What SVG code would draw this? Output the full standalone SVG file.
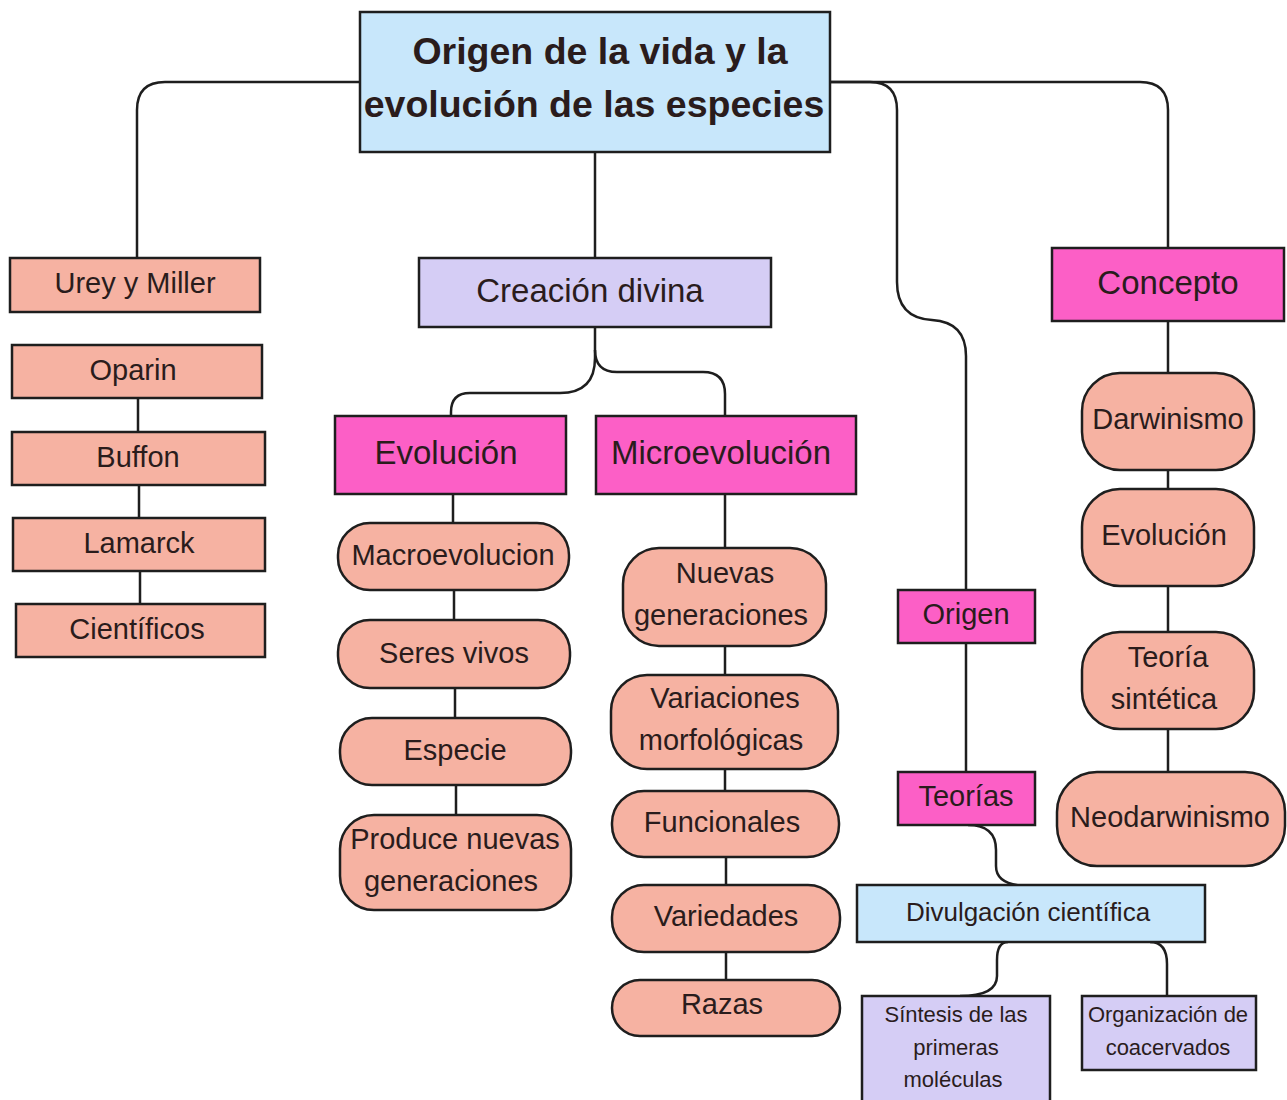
<svg xmlns="http://www.w3.org/2000/svg" width="1287" height="1100" viewBox="0 0 1287 1100">
<style>
rect{stroke:#1e1e1e;stroke-width:2.5}
.sal{fill:#f6b2a2}
.pink{fill:#fc5fc6}
.lav{fill:#d5cdf5}
.blue{fill:#c8e7fb}
text{font-family:"Liberation Sans",Arial,sans-serif;fill:#2a1c1c;text-anchor:middle;dominant-baseline:central}
.t29{font-size:29px}
.t33{font-size:33px}
.t26{font-size:26px}
.t22{font-size:22px}
#connectors path{fill:none;stroke:#1e1e1e;stroke-width:2.5}
</style>
<rect width="1287" height="1100" fill="#ffffff" style="stroke:none"/>
<g id="connectors">
<path d="M360,82 H165 Q137,82 137,110 V258"/>
<path d="M830,82 H1140 Q1168,82 1168,110 V248"/>
<path d="M830,82 H870 Q897,82 897,110 V282 Q897,318 932,320 Q966,322 966,356 V590"/>
<path d="M595,152 V258"/>
<path d="M595,327 V358 Q595,393 560,393 H470 Q451,393 451,412 V416"/>
<path d="M595,350 Q595,372 617,372 H703 Q725,372 725,394 V416"/>
<path d="M138,398 V432 M139,485 V518 M140,571 V604"/>
<path d="M453,494 V523 M454,590 V620 M455,688 V718 M456,785 V815"/>
<path d="M725,494 V548 M725,646 V675 M725,769 V791 M726,857 V885 M726,952 V980"/>
<path d="M1168,321 V373 M1168,470 V489 M1168,586 V632 M1168,729 V772"/>
<path d="M966,643 V772"/>
<path d="M968,825 Q996,825 996,850 V866 Q996,886 1030,886"/>
<path d="M1008,942 Q997,942 997,960 V976 Q997,996 960,996"/>
<path d="M1150,942 Q1167,942 1167,964 V996"/>
</g>
<g id="title"><rect class="blue" x="360" y="12" width="470" height="140"/>
<text x="600" y="51" style="font-size:37.5px;font-weight:bold">Origen de la vida y la</text>
<text x="594" y="104" style="font-size:37.5px;font-weight:bold">evolución de las especies</text></g>
<g id="urey"><rect class="sal" x="10" y="258" width="250" height="54"/><text class="t29" x="135" y="283">Urey y Miller</text></g>
<g id="oparin"><rect class="sal" x="12" y="345" width="250" height="53"/><text class="t29" x="133" y="370">Oparin</text></g>
<g id="buffon"><rect class="sal" x="12" y="432" width="253" height="53"/><text class="t29" x="138" y="457">Buffon</text></g>
<g id="lamarck"><rect class="sal" x="13" y="518" width="252" height="53"/><text class="t29" x="139" y="543">Lamarck</text></g>
<g id="cientificos"><rect class="sal" x="16" y="604" width="249" height="53"/><text class="t29" x="137" y="629">Científicos</text></g>
<g id="creacion"><rect class="lav" x="419" y="258" width="352" height="69"/><text class="t33" x="590" y="290">Creación divina</text></g>
<g id="evolucion"><rect class="pink" x="335" y="416" width="231" height="78"/><text class="t33" x="446" y="452">Evolución</text></g>
<g id="microevolucion"><rect class="pink" x="596" y="416" width="260" height="78"/><text class="t33" x="721" y="452">Microevolución</text></g>
<g id="macroevolucion"><rect class="sal" x="338" y="523" width="231" height="67" rx="32"/><text class="t29" x="453" y="555">Macroevolucion</text></g>
<g id="seres"><rect class="sal" x="338" y="620" width="232" height="68" rx="32"/><text class="t29" x="454" y="653">Seres vivos</text></g>
<g id="especie"><rect class="sal" x="340" y="718" width="231" height="67" rx="32"/><text class="t29" x="455" y="750">Especie</text></g>
<g id="produce"><rect class="sal" x="340" y="815" width="231" height="95" rx="34"/><text class="t29" x="455" y="839">Produce nuevas</text><text class="t29" x="451" y="881">generaciones</text></g>
<g id="nuevas"><rect class="sal" x="623" y="548" width="203" height="98" rx="36"/><text class="t29" x="725" y="573">Nuevas</text><text class="t29" x="721" y="615">generaciones</text></g>
<g id="variaciones"><rect class="sal" x="611" y="675" width="227" height="94" rx="36"/><text class="t29" x="725" y="698">Variaciones</text><text class="t29" x="721" y="740">morfológicas</text></g>
<g id="funcionales"><rect class="sal" x="612" y="791" width="227" height="66" rx="32"/><text class="t29" x="722" y="822">Funcionales</text></g>
<g id="variedades"><rect class="sal" x="612" y="885" width="228" height="67" rx="32"/><text class="t29" x="726" y="916">Variedades</text></g>
<g id="razas"><rect class="sal" x="612" y="980" width="228" height="56" rx="28"/><text class="t29" x="722" y="1004">Razas</text></g>
<g id="origen"><rect class="pink" x="898" y="590" width="137" height="53"/><text class="t29" x="966" y="614">Origen</text></g>
<g id="teorias"><rect class="pink" x="898" y="772" width="137" height="53"/><text class="t29" x="966" y="796">Teorías</text></g>
<g id="divulgacion"><rect class="blue" x="857" y="885" width="348" height="57"/><text class="t26" x="1028" y="912">Divulgación científica</text></g>
<g id="sintesis"><rect class="lav" x="862" y="996" width="188" height="110"/><text class="t22" x="956" y="1014">Síntesis de las</text><text class="t22" x="956" y="1047">primeras</text><text class="t22" x="953" y="1079">moléculas</text></g>
<g id="organizacion"><rect class="lav" x="1082" y="996" width="174" height="74"/><text class="t22" x="1168" y="1014">Organización de</text><text class="t22" x="1168" y="1047">coacervados</text></g>
<g id="concepto"><rect class="pink" x="1052" y="248" width="232" height="73"/><text class="t33" x="1168" y="282">Concepto</text></g>
<g id="darwinismo"><rect class="sal" x="1082" y="373" width="172" height="97" rx="38"/><text class="t29" x="1168" y="419">Darwinismo</text></g>
<g id="evolucion2"><rect class="sal" x="1082" y="489" width="172" height="97" rx="38"/><text class="t29" x="1164" y="535">Evolución</text></g>
<g id="teoria"><rect class="sal" x="1082" y="632" width="172" height="97" rx="38"/><text class="t29" x="1168" y="657">Teoría</text><text class="t29" x="1164" y="699">sintética</text></g>
<g id="neodarwinismo"><rect class="sal" x="1057" y="772" width="228" height="94" rx="40"/><text class="t29" x="1170" y="817">Neodarwinismo</text></g>
</svg>
